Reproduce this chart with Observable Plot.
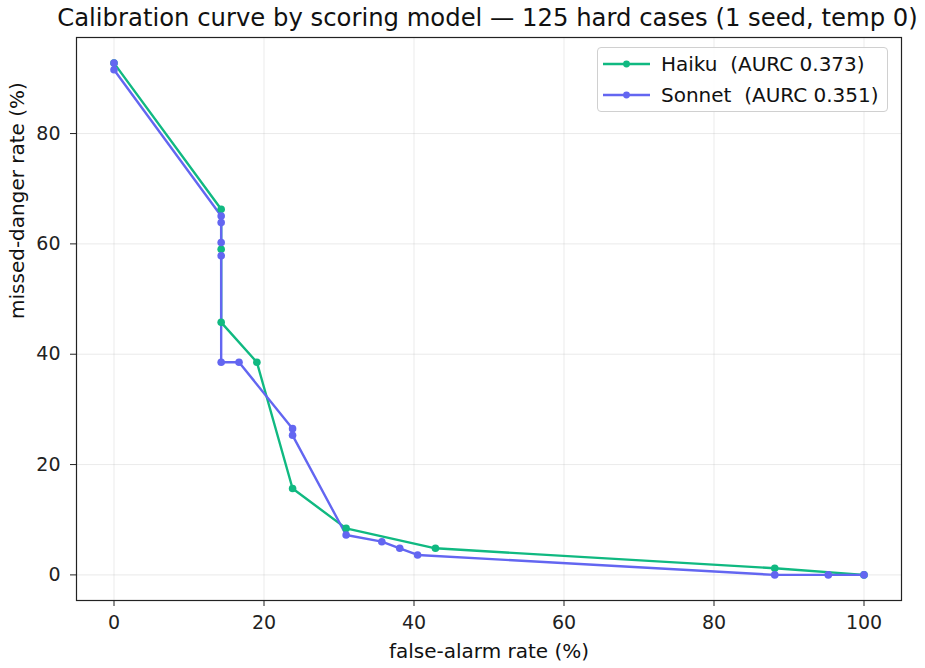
<!DOCTYPE html>
<html>
<head>
<meta charset="utf-8">
<script src="https://cdn.jsdelivr.net/npm/d3@7"></script>
<script src="https://cdn.jsdelivr.net/npm/@observablehq/plot@0.6"></script>
<style>
  html, body { margin: 0; padding: 0; background: #fff; }
  #wrap { position: relative; width: 925px; height: 668px; font-family: "DejaVu Sans", sans-serif; }
  #title { position: absolute; left: 0; width: 975px; top: 3px; text-align: center; font-size: 24.3px; line-height: 30px; color: #111; white-space: nowrap; }
  #legend { position: absolute; left: 597px; top: 47px; width: 291px; height: 65px; border: 1px solid #d0d0d0; border-radius: 4px; background: rgba(255,255,255,0.85); box-sizing: border-box; }
  .item { position: absolute; left: 5px; height: 26px; display: flex; align-items: center; font-size: 20px; color: #111; white-space: pre; }
  .item svg { margin-right: 11px; }
</style>
</head>
<body>
<div id="wrap">
  <div id="title">Calibration curve by scoring model — 125 hard cases (1 seed, temp 0)</div>
  <div id="chart"></div>
  <div id="legend"></div>
</div>
<script>
// Operating points as the threshold sweeps: false-alarm rate vs missed-danger rate (%)
const haikuFalseAlarm = [0, 14.29, 14.29, 14.29, 19.05, 23.81, 30.95, 42.86, 88.10, 100];
const haikuMissed     = [92.77, 66.27, 59.04, 45.78, 38.55, 15.66, 8.43, 4.82, 1.20, 0];
const sonnetFalseAlarm = [0, 0, 14.29, 14.29, 14.29, 14.29, 14.29, 16.67, 23.81, 23.81, 30.95, 35.71, 38.10, 40.48, 88.10, 95.24, 100];
const sonnetMissed     = [92.77, 91.57, 65.06, 63.86, 60.24, 57.83, 38.55, 38.55, 26.51, 25.30, 7.23, 6.02, 4.82, 3.61, 0, 0, 0];

const models = ["Haiku", "Sonnet"];
const aurc = [0.373, 0.351];
const colors = ["#10b981", "#6366f1"];
const xTicks = [0, 20, 40, 60, 80, 100];
const yTicks = [0, 20, 40, 60, 80];

const rows = [
  ...haikuFalseAlarm.map((x, i) => ({model: "Haiku", x, y: haikuMissed[i]})),
  ...sonnetFalseAlarm.map((x, i) => ({model: "Sonnet", x, y: sonnetMissed[i]}))
];

const font = "DejaVu Sans, sans-serif";
const chart = Plot.plot({
  width: 925,
  height: 668,
  marginLeft: 76,
  marginRight: 24,
  marginTop: 37,
  marginBottom: 68,
  style: {fontFamily: font, fontSize: "19px", color: "#222", background: "#fff"},
  x: {domain: [-5, 105], label: null},
  y: {domain: [-4.64, 97.41], label: null},
  color: {domain: models, range: colors},
  marks: [
    Plot.gridX(xTicks, {stroke: "#b0b0b0", strokeOpacity: 0.3, strokeWidth: 0.9}),
    Plot.gridY(yTicks, {stroke: "#b0b0b0", strokeOpacity: 0.3, strokeWidth: 0.9}),
    Plot.axisX(xTicks, {tickSize: 6, tickPadding: 9, fontSize: 19, tickFormat: d => d, label: null}),
    Plot.axisY(yTicks, {tickSize: 6, tickPadding: 10, fontSize: 19, tickFormat: d => d, label: null}),
    Plot.line(rows, {x: "x", y: "y", z: "model", stroke: "model", strokeWidth: 2.4}),
    Plot.dot(rows, {x: "x", y: "y", fill: "model", r: 3.8}),
    Plot.frame({stroke: "#222", strokeWidth: 1.2}),
    Plot.text(["false-alarm rate (%)"], {frameAnchor: "bottom", dy: 57, fontSize: 20, fill: "#111"}),
    Plot.text(["missed-danger rate (%)"], {frameAnchor: "left", dx: -59, rotate: -90, fontSize: 20, fill: "#111"})
  ]
});
document.getElementById("chart").appendChild(chart);

// Legend entries
const legend = document.getElementById("legend");
models.forEach((m, i) => {
  const div = document.createElement("div");
  div.className = "item";
  div.style.top = (3 + i * 31) + "px";
  div.innerHTML = `<svg width="47" height="10"><line x1="0" y1="5" x2="47" y2="5" stroke="${colors[i]}" stroke-width="2.4"/><circle cx="23.5" cy="5" r="3.4" fill="${colors[i]}"/></svg>` +
    `${m}  (AURC ${aurc[i].toFixed(3)})`;
  legend.appendChild(div);
});
</script>
</body>
</html>
